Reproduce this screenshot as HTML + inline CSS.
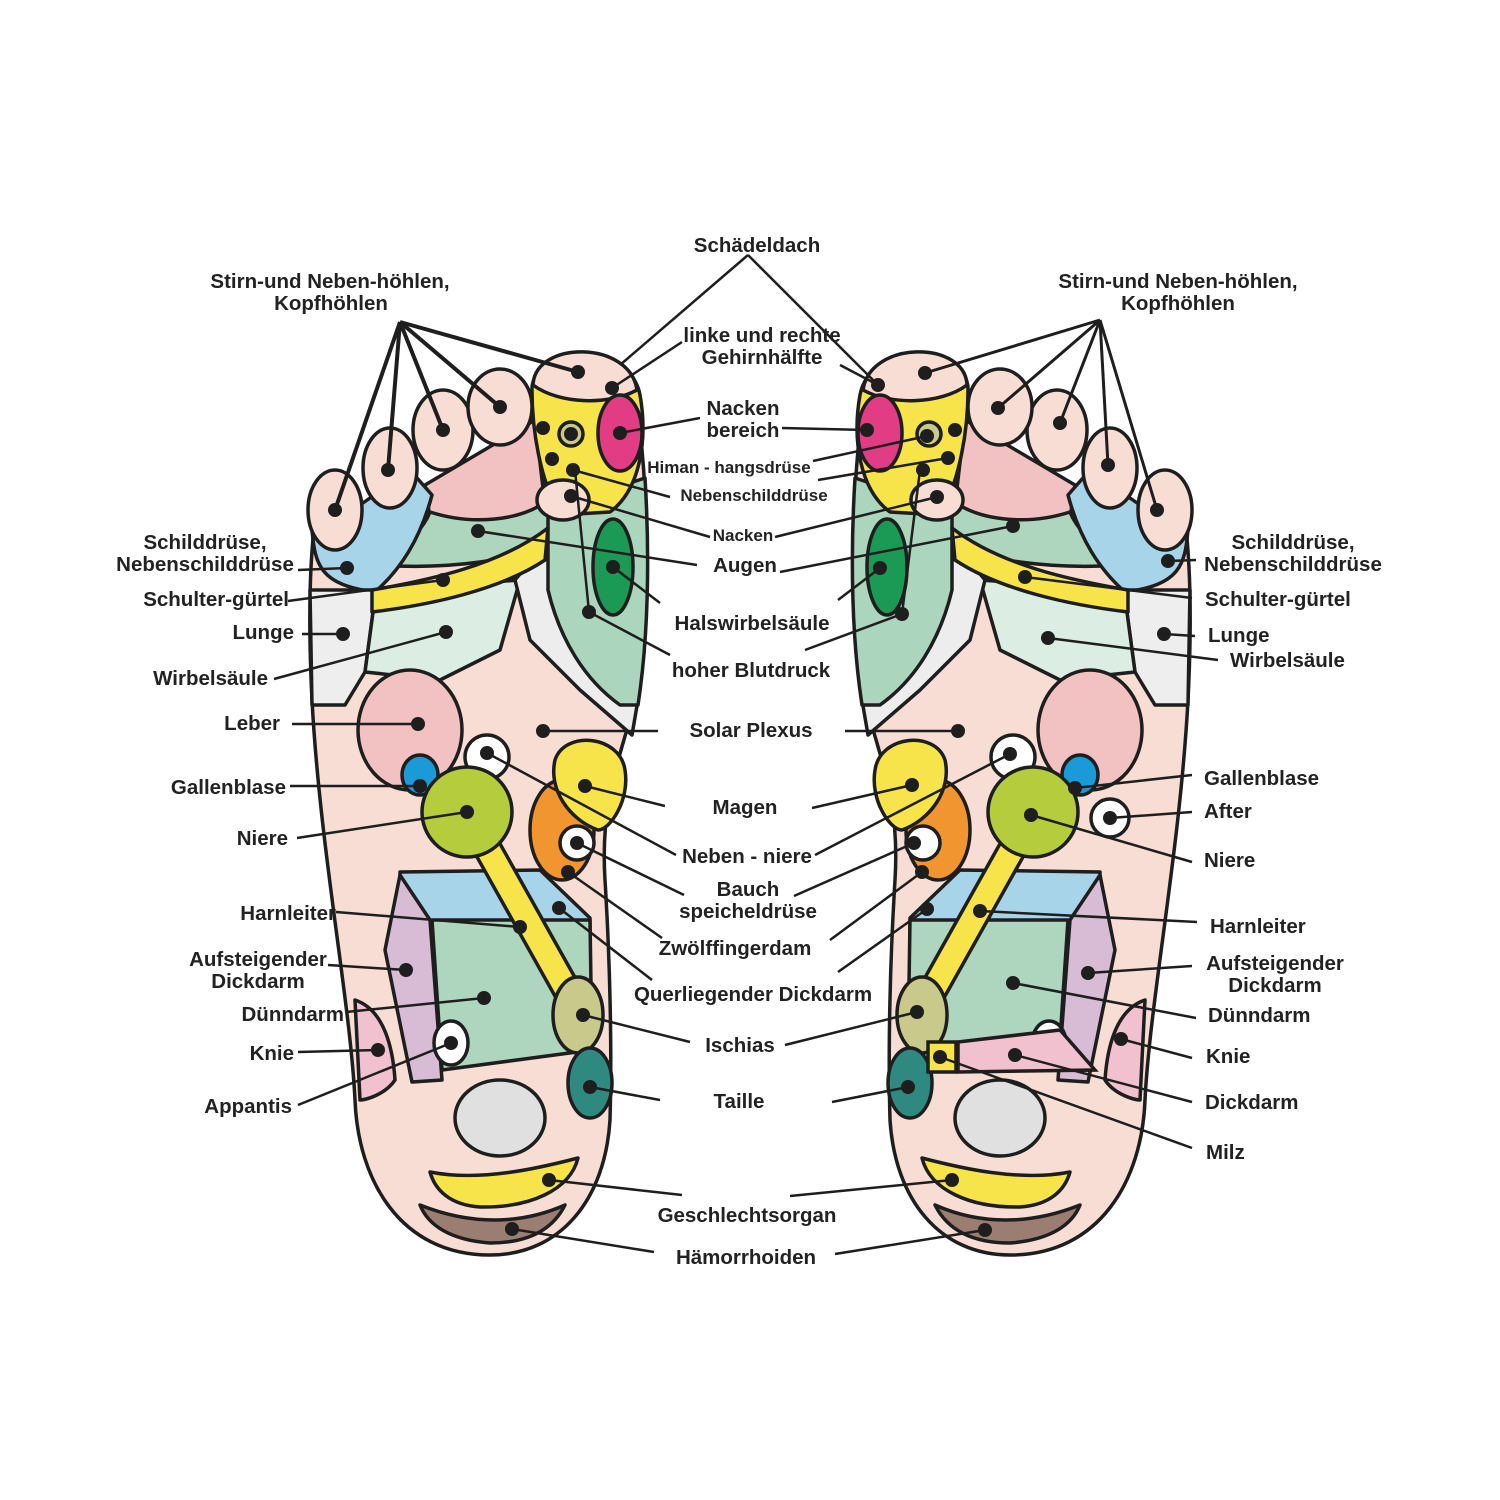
<!DOCTYPE html>
<html><head><meta charset="utf-8"><style>
html,body{margin:0;padding:0;background:#fff}
svg{display:block}
text{font-family:"Liberation Sans",sans-serif;font-weight:bold;font-size:20.5px;fill:#222}
.s{font-size:17px}
</style></head><body>
<svg width="1500" height="1500" viewBox="0 0 1500 1500" xmlns="http://www.w3.org/2000/svg">
<defs>
<g id="foot" stroke="#1e1e1e" stroke-width="3.5" stroke-linejoin="round">
  <path d="M490 1255 C400 1255 358 1180 355 1100 C350 1000 320 850 312 700 C308 620 310 560 315 520 L560 480 L640 430 C650 520 648 620 635 700 C620 760 600 800 605 880 C610 960 612 1050 610 1120 C605 1200 560 1255 490 1255 Z" fill="#f7ddd3"/>
  <path d="M425 485 L535 420 L545 505 C500 525 460 525 430 518 Z" fill="#f2c1c1"/>
  <path d="M378 565 C410 545 425 525 430 512 C470 525 520 522 548 500 L560 540 C520 560 450 570 378 565 Z" fill="#aed6be"/>
  <path d="M312 530 C315 565 320 585 375 592 C400 570 420 540 432 495 L410 470 L360 505 Z" fill="#a8d4ea"/>
  <path d="M310 590 L376 590 L365 672 L345 705 L312 705 Z" fill="#eeeeee"/>
  <path d="M376 590 L520 580 L500 650 L440 680 L365 672 Z" fill="#dceee3"/>
  <path d="M515 580 L548 540 L600 640 L638 700 L632 735 L580 690 L530 640 Z" fill="#ededed"/>
  <path d="M548 510 L645 478 C650 560 648 640 638 705 L620 705 C585 680 560 640 548 590 Z" fill="#acd5bd"/>
  <path d="M372 590 C430 580 500 565 548 528 L545 560 C500 590 430 605 372 612 Z" fill="#f7e44a"/>
  <ellipse cx="613" cy="567" rx="20" ry="48" fill="#1a9a55"/>
  <ellipse cx="335" cy="510" rx="27" ry="40" fill="#f8ddd5"/>
  <ellipse cx="390" cy="468" rx="27" ry="40" fill="#f8ddd5"/>
  <ellipse cx="443" cy="430" rx="30" ry="40" fill="#f8ddd5"/>
  <ellipse cx="500" cy="407" rx="32" ry="38" fill="#f8ddd5"/>
  <path d="M532 390 C530 350 630 340 640 395 C648 440 640 490 610 512 L560 515 C540 480 532 430 532 390 Z" fill="#f7e44a"/>
  <path d="M533 385 C535 340 630 340 637 390 C610 405 560 405 533 385 Z" fill="#f8ddd5"/>
  <ellipse cx="620" cy="433" rx="22" ry="38" fill="#e23c85"/>
  <ellipse cx="563" cy="500" rx="26" ry="20" fill="#f8ddd5"/>
  <circle cx="571" cy="434" r="12" fill="#c8c98a"/>
  <ellipse cx="410" cy="730" rx="52" ry="60" fill="#f2c1c1"/>
  <ellipse cx="420" cy="775" rx="18" ry="20" fill="#1a9ad6"/>
  <ellipse cx="562" cy="830" rx="32" ry="50" fill="#f0952f"/>
  <path d="M555 760 C565 730 620 735 625 770 C630 800 610 830 598 830 C570 820 548 790 555 760 Z" fill="#f7e44a"/>
  <circle cx="577" cy="843" r="17" fill="#fff"/>
  <path d="M400 872 L540 870 L590 918 L590 940 L400 930 Z" fill="#a8d4ea"/>
  <path d="M400 875 L430 920 L442 1080 L412 1082 L385 950 Z" fill="#d8bcd6"/>
  <path d="M432 920 L590 920 L592 1050 L442 1070 Z" fill="#aed6be"/>
  <path d="M355 1000 C385 1010 393 1050 395 1080 C385 1095 365 1100 360 1100 Z" fill="#f2c1cf"/>
  <ellipse cx="451" cy="1043" rx="17" ry="22" fill="#fff"/>
  <circle cx="487" cy="757" r="22" fill="#fff"/>
  <path d="M467 812 L578 1010" stroke-width="30" stroke-linecap="round"/>
  <path d="M467 812 L578 1010" stroke="#f7e44a" stroke-width="23" stroke-linecap="round"/>
  <circle cx="467" cy="812" r="45" fill="#b5cc3c"/>
  <ellipse cx="578" cy="1015" rx="25" ry="38" fill="#c8c98a"/>
  <ellipse cx="590" cy="1083" rx="22" ry="35" fill="#2e8a80"/>
  <ellipse cx="500" cy="1118" rx="45" ry="38" fill="#e0e0e0"/>
  <path d="M430 1172 C480 1182 540 1168 578 1158 C570 1190 530 1208 480 1207 C450 1205 435 1190 430 1172 Z" fill="#f7e44a"/>
  <path d="M420 1205 C470 1225 520 1225 565 1205 C550 1235 520 1243 490 1243 C450 1240 428 1225 420 1205 Z" fill="#9b7d72"/>
</g>
</defs>
<use href="#foot"/>
<use href="#foot" transform="matrix(-1,0,0,1,1500,0)"/>
<g stroke="#1e1e1e" stroke-width="3.5">
  <circle cx="1110" cy="818" r="19" fill="#fff"/>
  <rect x="928" y="1042" width="28" height="30" fill="#f7e44a"/>
  <path d="M958 1042 L1060 1030 L1095 1070 L958 1072 Z" fill="#f2c1cf"/>
</g>
<g stroke="#1e1e1e" stroke-width="4" fill="none">
  <path d="M400 322 L335 510 M400 322 L388 470 M400 322 L443 430 M400 322 L500 407 M400 322 L578 372"/>
  <path d="M1100 320 L925 373 M1100 320 L998 408 M1100 320 L1060 423 M1100 320 L1108 465 M1100 320 L1157 510" stroke-width="3"/>
</g>
<g stroke="#1e1e1e" stroke-width="2.5" fill="none">
  <path d="M748 255 L620 365 M748 255 L878 385 M682 342 L612 388 M840 365 L878 385"/>
  <path d="M700 418 L620 433 M782 428 L867 430 M573 470 L670 497 M818 480 L948 458 M813 461 L927 436"/>
  <path d="M571 496 L710 537 M775 537 L937 497 M478 531 L697 565 M780 572 L1013 526"/>
  <path d="M613 567 L660 603 M838 600 L880 568 M575 470 L589 612 L670 655 M805 650 L902 614 L920 470"/>
  <path d="M543 731 L658 731 M845 731 L958 731 M585 786 L665 806 M812 808 L912 785"/>
  <path d="M487 753 L676 855 M815 855 L1010 754 M577 843 L684 895 M794 896 L914 843"/>
  <path d="M568 872 L662 938 M830 940 L922 872 M559 908 L652 980 M838 972 L927 909"/>
  <path d="M583 1015 L690 1042 M785 1045 L917 1012 M590 1087 L660 1100 M832 1102 L908 1087"/>
  <path d="M549 1180 L682 1195 M790 1196 L952 1180 M512 1229 L654 1252 M835 1254 L985 1230"/>
  <path d="M298 570 L347 568 M288 601 L443 580 M302 634 L343 634 M274 679 L446 632 M292 724 L418 724"/>
  <path d="M290 786 L420 786 M297 838 L467 812 M336 912 L520 927 M328 965 L406 970 M346 1012 L484 998"/>
  <path d="M298 1052 L378 1050 M298 1105 L451 1043"/>
  <path d="M1168 561 L1196 560 M1025 577 L1192 598 M1164 634 L1195 636 M1048 638 L1218 660"/>
  <path d="M1075 788 L1192 775 M1110 818 L1192 812 M1031 815 L1192 862 M980 911 L1197 922"/>
  <path d="M1088 973 L1192 966 M1013 983 L1196 1018 M1121 1039 L1192 1058 M1015 1055 L1192 1102 M940 1057 L1192 1148"/>
</g>
<g fill="#1e1e1e">
  <circle cx="578" cy="372" r="7"/><circle cx="612" cy="388" r="7"/><circle cx="620" cy="433" r="7"/><circle cx="571" cy="434" r="7"/><circle cx="543" cy="428" r="7"/><circle cx="552" cy="459" r="7"/><circle cx="573" cy="470" r="7"/><circle cx="571" cy="496" r="7"/>
  <circle cx="335" cy="510" r="7"/><circle cx="388" cy="470" r="7"/><circle cx="443" cy="430" r="7"/><circle cx="500" cy="407" r="7"/>
  <circle cx="478" cy="531" r="7"/><circle cx="443" cy="580" r="7"/><circle cx="446" cy="632" r="7"/><circle cx="343" cy="634" r="7"/><circle cx="347" cy="568" r="7"/><circle cx="613" cy="567" r="7"/><circle cx="589" cy="612" r="7"/>
  <circle cx="543" cy="731" r="7"/><circle cx="418" cy="724" r="7"/><circle cx="420" cy="786" r="7"/><circle cx="467" cy="812" r="7"/><circle cx="487" cy="753" r="7"/><circle cx="585" cy="786" r="7"/><circle cx="577" cy="843" r="7"/><circle cx="568" cy="872" r="7"/><circle cx="559" cy="908" r="7"/><circle cx="520" cy="927" r="7"/>
  <circle cx="406" cy="970" r="7"/><circle cx="484" cy="998" r="7"/><circle cx="451" cy="1043" r="7"/><circle cx="378" cy="1050" r="7"/><circle cx="583" cy="1015" r="7"/><circle cx="590" cy="1087" r="7"/><circle cx="549" cy="1180" r="7"/><circle cx="512" cy="1229" r="7"/>
  <circle cx="925" cy="373" r="7"/><circle cx="878" cy="385" r="7"/><circle cx="867" cy="430" r="7"/><circle cx="927" cy="436" r="7"/><circle cx="955" cy="430" r="7"/><circle cx="948" cy="458" r="7"/><circle cx="923" cy="470" r="7"/><circle cx="937" cy="497" r="7"/>
  <circle cx="1013" cy="526" r="7"/><circle cx="1025" cy="577" r="7"/><circle cx="1048" cy="638" r="7"/><circle cx="1164" cy="634" r="7"/><circle cx="1168" cy="561" r="7"/><circle cx="1108" cy="465" r="7"/><circle cx="1060" cy="423" r="7"/><circle cx="998" cy="408" r="7"/><circle cx="1157" cy="510" r="7"/>
  <circle cx="880" cy="568" r="7"/><circle cx="902" cy="614" r="7"/><circle cx="958" cy="731" r="7"/><circle cx="912" cy="785" r="7"/><circle cx="1010" cy="754" r="7"/><circle cx="1075" cy="788" r="7"/><circle cx="1110" cy="818" r="7"/><circle cx="1031" cy="815" r="7"/>
  <circle cx="914" cy="843" r="7"/><circle cx="922" cy="872" r="7"/><circle cx="927" cy="909" r="7"/><circle cx="980" cy="911" r="7"/><circle cx="1088" cy="973" r="7"/><circle cx="1013" cy="983" r="7"/><circle cx="1121" cy="1039" r="7"/><circle cx="1015" cy="1055" r="7"/><circle cx="940" cy="1057" r="7"/><circle cx="917" cy="1012" r="7"/><circle cx="908" cy="1087" r="7"/><circle cx="952" cy="1180" r="7"/><circle cx="985" cy="1230" r="7"/>
</g>
<g text-anchor="middle">
  <text x="757" y="252">Schädeldach</text>
  <text x="762" y="342">linke und rechte</text><text x="762" y="364">Gehirnhälfte</text>
  <text x="743" y="415">Nacken</text><text x="743" y="437">bereich</text>
  <text x="729" y="473" class="s">Himan - hangsdrüse</text>
  <text x="754" y="501" class="s">Nebenschilddrüse</text>
  <text x="743" y="541" class="s">Nacken</text>
  <text x="745" y="572">Augen</text>
  <text x="752" y="630">Halswirbelsäule</text>
  <text x="751" y="677">hoher Blutdruck</text>
  <text x="751" y="737">Solar Plexus</text>
  <text x="745" y="814">Magen</text>
  <text x="747" y="863">Neben - niere</text>
  <text x="748" y="896">Bauch</text><text x="748" y="918">speicheldrüse</text>
  <text x="735" y="955">Zwölffingerdam</text>
  <text x="753" y="1001">Querliegender Dickdarm</text>
  <text x="740" y="1052">Ischias</text>
  <text x="739" y="1108">Taille</text>
  <text x="747" y="1222">Geschlechtsorgan</text>
  <text x="746" y="1264">Hämorrhoiden</text>
  <text x="330" y="288">Stirn-und Neben-höhlen,</text><text x="331" y="310">Kopfhöhlen</text>
  <text x="1178" y="288">Stirn-und Neben-höhlen,</text><text x="1178" y="310">Kopfhöhlen</text>
  <text x="205" y="549">Schilddrüse,</text><text x="205" y="571">Nebenschilddrüse</text>
  <text x="1293" y="549">Schilddrüse,</text><text x="1293" y="571">Nebenschilddrüse</text>
  <text x="258" y="966">Aufsteigender</text><text x="258" y="988">Dickdarm</text>
  <text x="1275" y="970">Aufsteigender</text><text x="1275" y="992">Dickdarm</text>
</g>
<g text-anchor="end">
  <text x="289" y="606">Schulter-gürtel</text>
  <text x="294" y="639">Lunge</text>
  <text x="268" y="685">Wirbelsäule</text>
  <text x="280" y="730">Leber</text>
  <text x="286" y="794">Gallenblase</text>
  <text x="288" y="845">Niere</text>
  <text x="336" y="920">Harnleiter</text>
  <text x="344" y="1021">Dünndarm</text>
  <text x="294" y="1060">Knie</text>
  <text x="292" y="1113">Appantis</text>
</g>
<g>
  <text x="1205" y="606">Schulter-gürtel</text>
  <text x="1208" y="642">Lunge</text>
  <text x="1230" y="667">Wirbelsäule</text>
  <text x="1204" y="785">Gallenblase</text>
  <text x="1204" y="818">After</text>
  <text x="1204" y="867">Niere</text>
  <text x="1210" y="933">Harnleiter</text>
  <text x="1208" y="1022">Dünndarm</text>
  <text x="1206" y="1063">Knie</text>
  <text x="1205" y="1109">Dickdarm</text>
  <text x="1206" y="1159">Milz</text>
</g>
</svg>
</body></html>
